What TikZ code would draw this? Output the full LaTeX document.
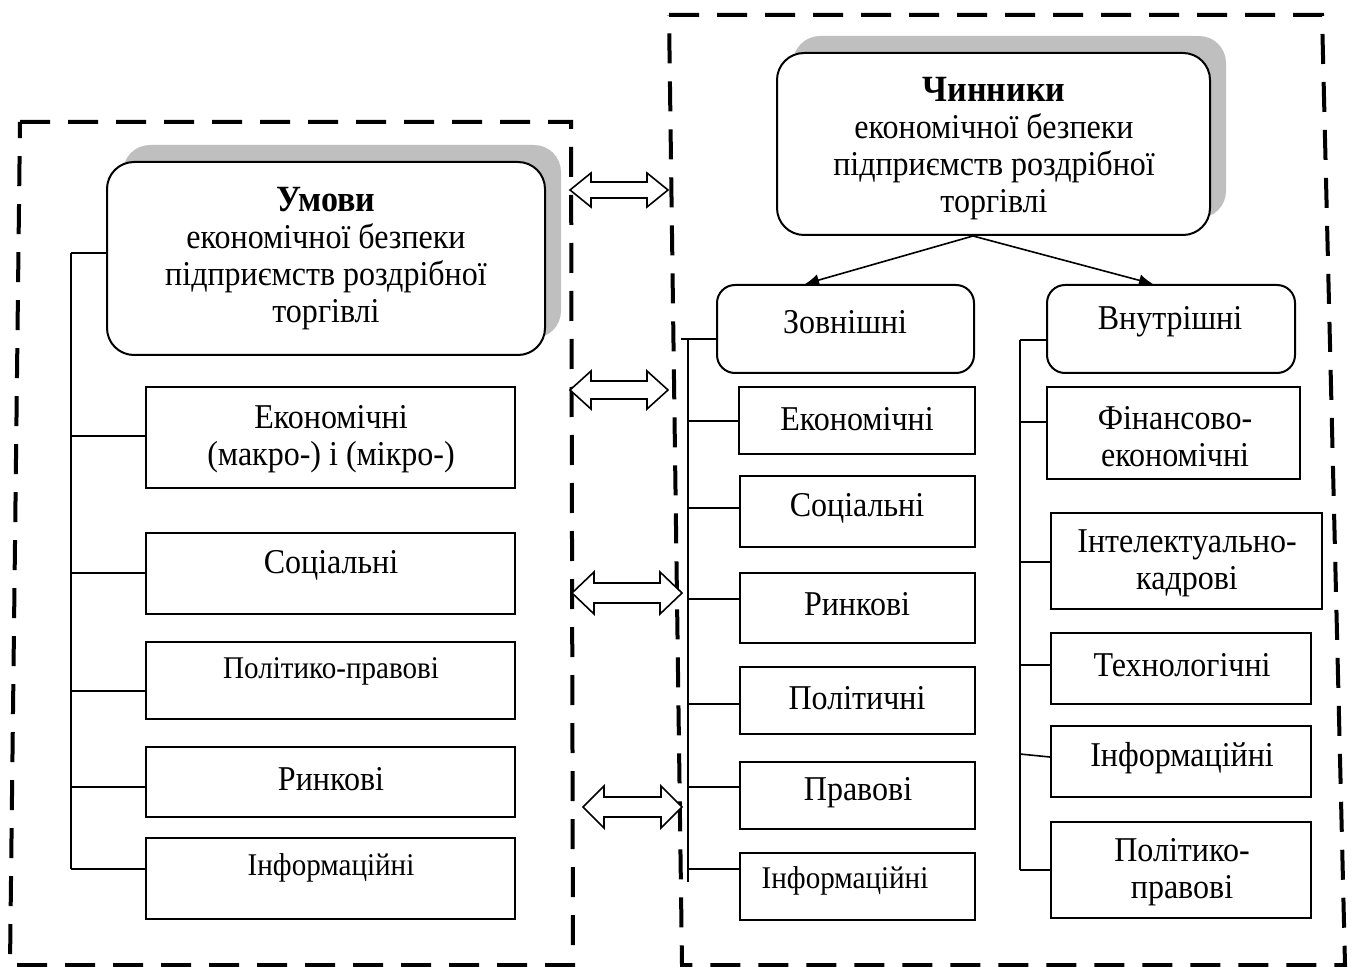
\documentclass[tikz,border=0pt]{standalone}
\usepackage{fontspec}
\setmainfont{Liberation Serif}[FakeStretch=0.92]
\usetikzlibrary{arrows.meta,fit}
\definecolor{shadowgray}{RGB}{191,191,191}
\newcommand\mydblarrow[6]{%
  \draw[dbl] (#1,#2) -- ++(#4,-#5) -- ++(0,{#5-#6}) -- ++({#3-2*#4},0)
    -- ++(0,{-(#5-#6)}) -- ++(#4,#5) -- ++(-#4,#5) -- ++(0,{-(#5-#6)})
    -- ++({-(#3-2*#4)},0) -- ++(0,{#5-#6}) -- cycle;}
\begin{document}
\begin{tikzpicture}[x=0.5pt,y=-0.5pt,
  frame/.style={line width=2pt,dash pattern=on 15pt off 9pt},
  shadowbox/.style={fill=shadowgray,rounded corners=13.5pt,inner sep=0pt},
  bigbox/.style={draw,line width=1pt,fill=white,rounded corners=13.5pt,inner sep=0pt},
  subbox/.style={draw,line width=1pt,fill=white,rounded corners=9pt,inner sep=0pt},
  plainbox/.style={draw,line width=1pt,fill=white,inner sep=0pt},
  conn/.style={line width=0.8pt},
  dbl/.style={draw,line width=0.8pt,fill=white,line join=miter},
  txt/.style={font=\fontsize{17.4}{18.5}\selectfont,align=center,inner sep=0pt},
  smalltxt/.style={font=\fontsize{15.8}{18}\selectfont,align=center,inner sep=0pt},
  arr/.style={line width=0.8pt,-{Latex[length=7pt,width=6pt]}}]
\useasboundingbox (0,0) rectangle (1352,967);

% dashed frames
\draw[frame] (20,122) -- (571,122) -- (573,965) -- (10,965) -- cycle;
\draw[frame] (669,15) -- (1322,15) -- (1345,965) -- (682,965) -- cycle;

% big boxes with shadows
\node[shadowbox,fit={(123,145) (561,338)}] (ushadow) {};
\node[bigbox,fit={(107,162) (545,355)}] (umovy) {};
\node[txt] (umovyt) at (326,259) {{\fontsize{18.5}{18.5}\selectfont\textbf{Умови}}\\економічної безпеки\\підприємств роздрібної\\торгівлі};

\node[shadowbox,fit={(793,36) (1226,218)}] (cshadow) {};
\node[bigbox,fit={(777,53) (1210,235)}] (chyn) {};
\node[txt] (chynt) at (994,149) {{\fontsize{18.5}{18.5}\selectfont\textbf{Чинники}}\\економічної безпеки\\підприємств роздрібної\\торгівлі};

% left column
\node[plainbox,fit={(146,387) (515,488)}] (l1) {};
\node[plainbox,fit={(146,533) (515,614)}] (l2) {};
\node[plainbox,fit={(146,642) (515,719)}] (l3) {};
\node[plainbox,fit={(146,747) (515,817)}] (l4) {};
\node[plainbox,fit={(146,838) (515,919)}] (l5) {};
\node[txt] (l1t) at (331,439) {Економічні\\(макро-) і (мікро-)};
\node[txt] (l2t) at (331,565) {Соціальні};
\node[smalltxt] (l3t) at (331,671) {Політико-правові};
\node[txt] (l4t) at (331,779) {Ринкові};
\node[smalltxt] (l5t) at (331,868) {Інформаційні};

\coordinate (lT) at (71,253);
\coordinate (lB) at (71,869);
\draw[conn] (lT) -- (lB);
\draw[conn] (lT) -- (umovy.west |- lT);
\draw[conn] (lT |- 0,436) -- (l1.west |- 0,436);
\draw[conn] (lT |- 0,573) -- (l2.west |- 0,573);
\draw[conn] (lT |- 0,691) -- (l3.west |- 0,691);
\draw[conn] (lT |- 0,787) -- (l4.west |- 0,787);
\draw[conn] (lT |- 0,869) -- (l5.west |- 0,869);

% sub boxes
\node[subbox,fit={(717,285) (974,373)}] (zovn) {};
\node[subbox,fit={(1047,285) (1295,373)}] (vnut) {};
\node[txt] (zovnt) at (845,322) {Зовнішні};
\node[txt] (vnutt) at (1170,322) {Внутрішні};
\draw[arr] (chyn.south -| 973,0) -- (zovn.north -| 805,0);
\draw[arr] (chyn.south -| 973,0) -- (vnut.north -| 1153,0);

% external column
\node[plainbox,fit={(739,387) (975,454)}] (e1) {};
\node[plainbox,fit={(740,476) (975,547)}] (e2) {};
\node[plainbox,fit={(740,573) (975,643)}] (e3) {};
\node[plainbox,fit={(740,667) (975,734)}] (e4) {};
\node[plainbox,fit={(740,762) (975,829)}] (e5) {};
\node[plainbox,fit={(740,853) (975,920)}] (e6) {};
\node[txt] (e1t) at (857,419) {Економічні};
\node[txt] (e2t) at (857,508) {Соціальні};
\node[txt] (e3t) at (857,604) {Ринкові};
\node[txt] (e4t) at (857,698) {Політичні};
\node[txt] (e5t) at (858,793) {Правові};
\node[smalltxt] (e6t) at (845,881) {Інформаційні};

\coordinate (mT) at (688,339);
\coordinate (mB) at (688,882);
\draw[conn] (mT) -- (mB);
\draw[conn] (681,339) -- (zovn.west |- mT);
\draw[conn] (mT |- 0,421) -- (e1.west |- 0,421);
\draw[conn] (mT |- 0,508) -- (e2.west |- 0,508);
\draw[conn] (mT |- 0,599) -- (e3.west |- 0,599);
\draw[conn] (mT |- 0,704) -- (e4.west |- 0,704);
\draw[conn] (mT |- 0,787) -- (e5.west |- 0,787);
\draw[conn] (mT |- 0,869) -- (e6.west |- 0,869);

% internal column
\node[plainbox,fit={(1047,387) (1300,479)}] (i1) {};
\node[plainbox,fit={(1051,513) (1322,609)}] (i2) {};
\node[plainbox,fit={(1051,633) (1311,704)}] (i3) {};
\node[plainbox,fit={(1051,726) (1311,797)}] (i4) {};
\node[plainbox,fit={(1051,822) (1311,918)}] (i5) {};
\node[txt] (i1t) at (1175,437) {Фінансово-\\економічні};
\node[txt] (i2t) at (1187,563) {Інтелектуально-\\кадрові};
\node[txt] (i3t) at (1182,665) {Технологічні};
\node[txt] (i4t) at (1182,758) {Інформаційні};
\node[txt] (i5t) at (1182,872) {Політико-\\правові};

\coordinate (rT) at (1020,340);
\coordinate (rB) at (1020,870);
\draw[conn] (rT) -- (rB);
\draw[conn] (rT) -- (vnut.west |- rT);
\draw[conn] (rT |- 0,422) -- (i1.west |- 0,422);
\draw[conn] (rT |- 0,562) -- (i2.west |- 0,562);
\draw[conn] (rT |- 0,665) -- (i3.west |- 0,665);
\draw[conn] (rT |- 0,754) -- (i4.west |- 0,757);
\draw[conn] (rT |- 0,870) -- (i5.west |- 0,870);

% double arrows between the frames
\mydblarrow{570}{190}{98}{21}{17}{8}
\mydblarrow{570}{390}{98}{21}{19}{9}
\mydblarrow{572}{593}{110}{22}{21}{10}
\mydblarrow{583}{807}{99}{21}{21}{10}
\end{tikzpicture}
\end{document}
